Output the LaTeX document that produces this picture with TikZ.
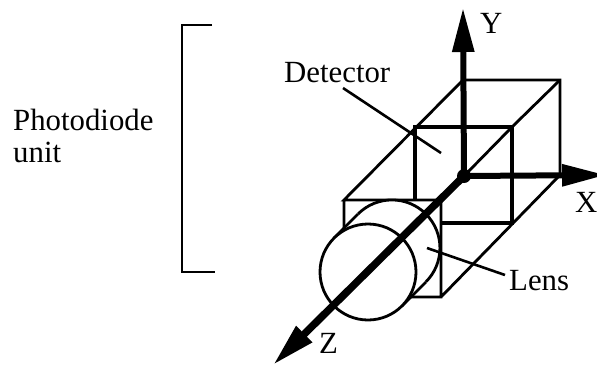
\documentclass[tikz,border=0pt]{standalone}
\usepackage{fontspec}
\setmainfont{Liberation Serif}
\usetikzlibrary{arrows.meta}
\tikzset{
  label text/.style={inner sep=0pt, anchor=base west, font=\fontsize{30.8}{33}\selectfont},
  axis/.style={line width=6pt, -{Triangle[length=44pt, width=21pt]}},
  thin edge/.style={line width=2.8pt},
  thick edge/.style={line width=4.8pt},
  leader/.style={line width=2.6pt},
  origin dot/.style={circle, fill=black, inner sep=0pt, minimum size=14pt},
}
\begin{document}
\begin{tikzpicture}[x=1pt, y=-1pt]
  \useasboundingbox (0,0) rectangle (597,365);

  \node[label text] (photodiode) at (13,130) {Photodiode};
  \node[label text] (unit) at (13,162) {unit};
  \node[label text] (detector) at (284,82) {Detector};
  \node[label text] (lens) at (509,290) {Lens};
  \node[label text] (ylabel) at (480,33) {Y};
  \node[label text] (xlabel) at (575,212) {X};
  \node[label text] (zlabel) at (319,353) {Z};

  % bracket
  \coordinate (B1) at (212,25);
  \coordinate (B2) at (182,25);
  \coordinate (B3) at (182,272);
  \coordinate (B4) at (215,272);
  \draw[thin edge] (B1) -- (B2) -- (B3) -- (B4);

  % rear and front faces
  \coordinate (R1) at (463,80);
  \coordinate (R2) at (560,80);
  \coordinate (R3) at (560,175);
  \coordinate (F1) at (344,200);
  \coordinate (F2) at (441,200);
  \coordinate (F3) at (441,297);
  \coordinate (F4) at (344,297);
  \coordinate (O) at (464,176);
  \draw[thin edge] (R1) -- (R2) -- (R3) -- (F3)
    (R1) -- (F1) -- (F2) -- (F3) -- (F4) -- (F1);

  % detector
  \coordinate (D1) at (415,200);
  \coordinate (D2) at (415,127);
  \coordinate (D3) at (512,127);
  \coordinate (D4) at (512,223);
  \coordinate (D5) at (441,223);
  \draw[thick edge] (D1) -- (D2) -- (D3) -- (D4) -- (D5);
  \draw[thin edge] (R2) -- (D3) -- (O);

  % lens
  \coordinate (L1) at (392,248);
  \coordinate (L2) at (368,272);
  \path[fill=white] (L1) circle[radius=48];
  \path[fill=white] (358,214) -- (334,238) -- (402,306) -- (426,282) -- cycle;
  \draw[thin edge] (358,214) arc[start angle=225, end angle=405, radius=48];
  \draw[thin edge] (358,214) -- (334,238) (426,282) -- (402,306);
  \draw[thin edge, fill=white] (L2) circle[radius=48];

  % axes
  \node[origin dot] (origin) at (O) {};
  \coordinate (Ytip) at (463,8);
  \coordinate (Xtip) at (606,175);
  \coordinate (Ztip) at (273,365);
  \draw[axis] (origin.center) -- (Ytip);
  \draw[axis] (origin.center) -- (Xtip);
  \draw[axis, line width=7.5pt] (origin.center) -- (Ztip);

  % leaders
  \coordinate (Dstart) at (343,88);
  \coordinate (Dend) at (441,153);
  \coordinate (Lstart) at (505,275);
  \coordinate (Lend) at (427,248);
  \draw[leader] (Dstart) -- (Dend);
  \draw[leader] (Lstart) -- (Lend);
\end{tikzpicture}
\end{document}
